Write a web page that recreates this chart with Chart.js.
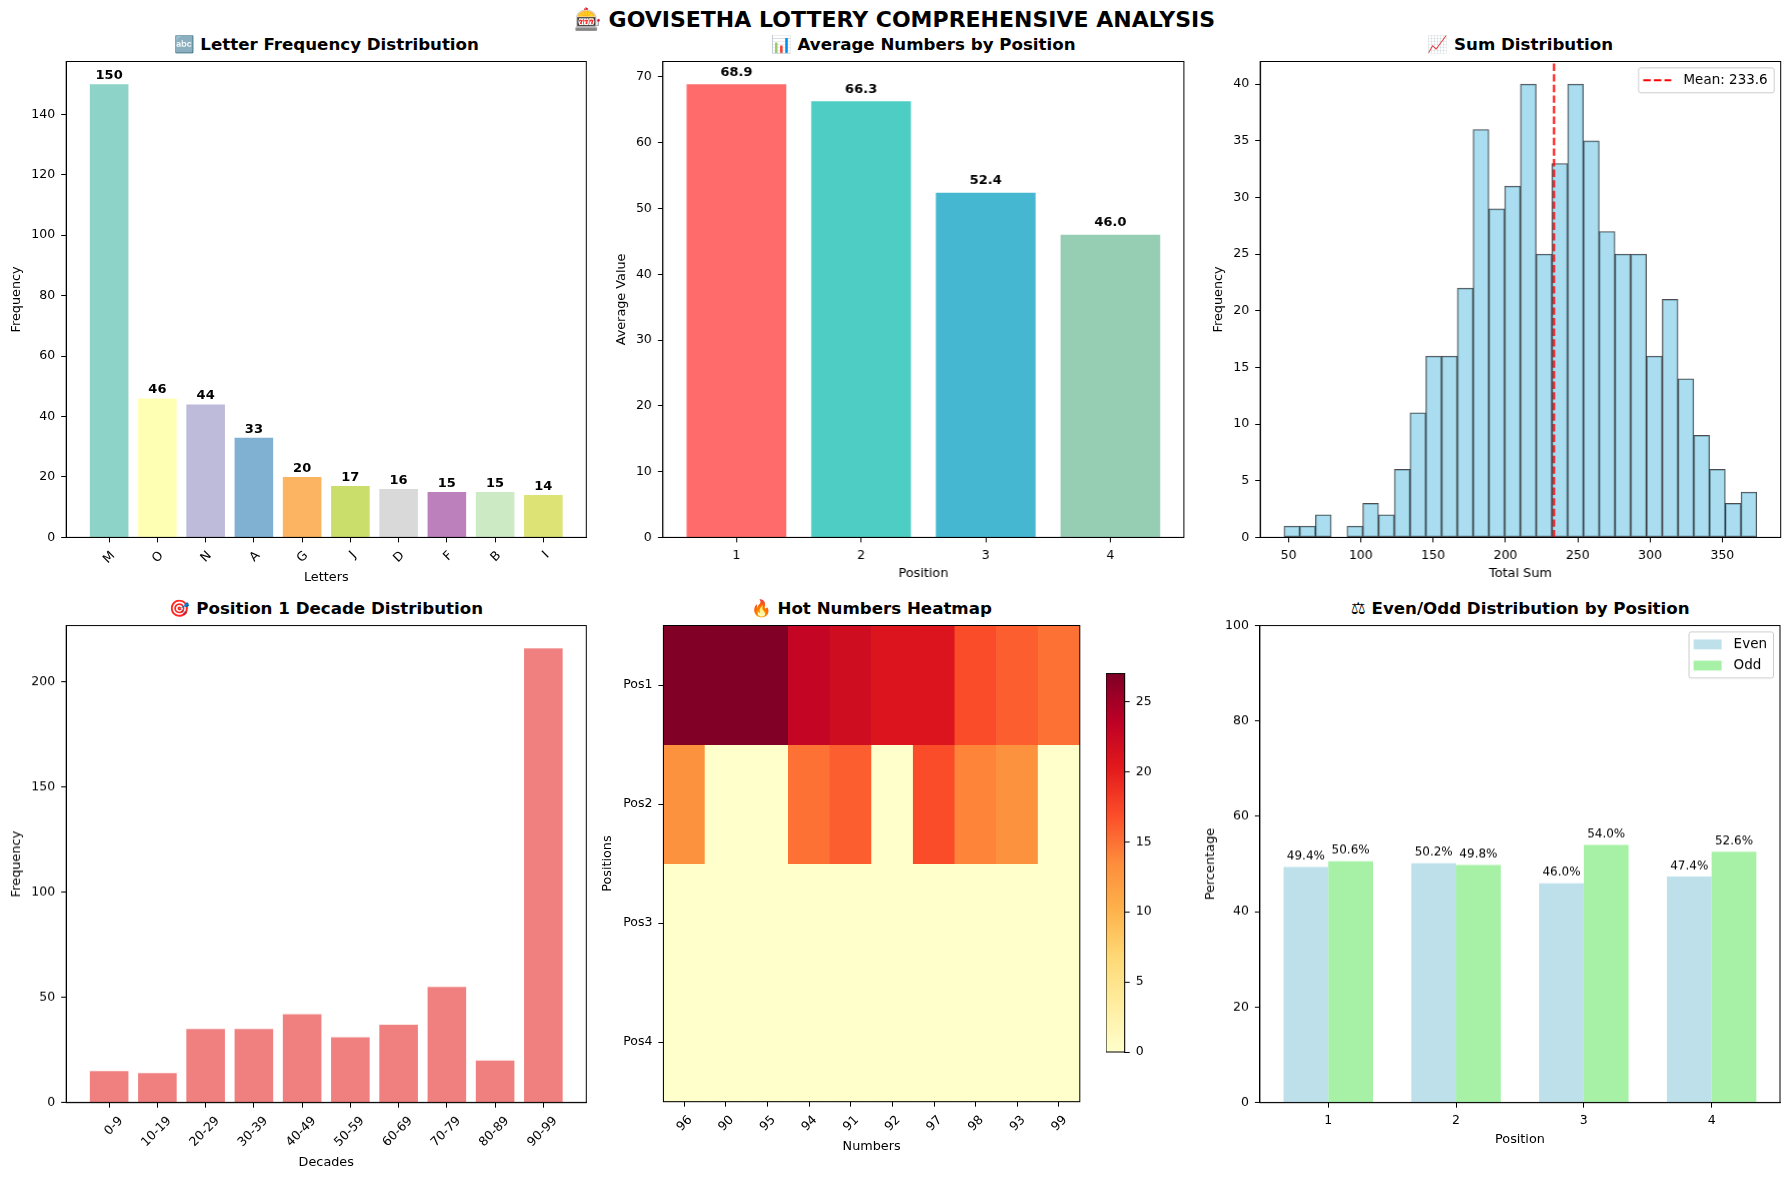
<!DOCTYPE html>
<html>
<head>
<meta charset="utf-8">
<script src="https://cdn.jsdelivr.net/npm/chart.js@4.4.1/dist/chart.umd.min.js"></script>
<style>
  body { margin: 0; background: #fff; width: 1789px; height: 1180px; position: relative; overflow: hidden; font-family: 'DejaVu Sans'; }
  .panel { position: absolute; }
  .ptitle { position: absolute; text-align: center; font: bold 16.67px/19px 'DejaVu Sans'; color: #000; white-space: nowrap; }
  #suptitle { position: absolute; left: 0; width: 1789px; top: 7px; text-align: center; font: bold 22px/25px 'DejaVu Sans'; color: #000; }
</style>
</head>
<body>
<div id="suptitle">🎰 GOVISETHA LOTTERY COMPREHENSIVE ANALYSIS</div>
<script>
// ---- data ----
const letters = ['M', 'O', 'N', 'A', 'G', 'J', 'D', 'F', 'B', 'I'];
const letterCounts = [150, 46, 44, 33, 20, 17, 16, 15, 15, 14];
const letterColors = ['#8dd3c7', '#ffffb3', '#bebada', '#80b1d3', '#fdb462', '#cadf6b', '#d9d9d9', '#bc80bd', '#ccebc5', '#dde374'];

const positions = [1, 2, 3, 4];
const positionAverages = [68.9, 66.3, 52.4, 46.0];
const positionColors = ['#FF6B6B', '#4ECDC4', '#45B7D1', '#96CEB4'];

const sumBinCenters = [52.3, 63.2, 74.1, 85.0, 95.9, 106.8, 117.7, 128.6, 139.5, 150.4,
  161.3, 172.2, 183.1, 194.0, 204.9, 215.8, 226.7, 237.6, 248.5, 259.4,
  270.3, 281.2, 292.1, 303.0, 313.9, 324.8, 335.7, 346.6, 357.5, 368.4];
const sumBinCounts = [1, 1, 2, 0, 1, 3, 2, 6, 11, 16, 16, 22, 36, 29, 31, 40, 25, 33, 40, 35,
  27, 25, 25, 16, 21, 14, 9, 6, 3, 4];
const sumMean = 233.6;

const decades = ['0-9', '10-19', '20-29', '30-39', '40-49', '50-59', '60-69', '70-79', '80-89', '90-99'];
const decadeCounts = [15, 14, 35, 35, 42, 31, 37, 55, 20, 216];

const hotNumbers = ['96', '90', '95', '94', '91', '92', '97', '98', '93', '99'];
const posLabels = ['Pos1', 'Pos2', 'Pos3', 'Pos4'];
const hotPos1 = [27, 27, 27, 23, 22, 21, 21, 17, 16, 15];
const hotPos2 = [13, 0, 0, 15, 16, 0, 17, 14, 13, 0];
const hotPos3 = [0, 0, 0, 0, 0, 0, 0, 0, 0, 0];
const hotPos4 = [0, 0, 0, 0, 0, 0, 0, 0, 0, 0];
const heatMax = 27;

const evenPct = [49.4, 50.2, 46.0, 47.4];
const oddPct = [50.6, 49.8, 54.0, 52.6];

// ---- helpers ----
Chart.defaults.font.family = "'DejaVu Sans'";
Chart.defaults.color = '#000';

const YLORRD = ['#ffffcc', '#ffeda0', '#fed976', '#feb24c', '#fd8d3c', '#fc4e2a', '#e31a1c', '#bd0026', '#800026'];
function hex(c) { return [1, 3, 5].map(i => parseInt(c.substr(i, 2), 16)); }
function heatColor(v) {
  const p = Math.max(0, Math.min(1, v / heatMax)) * 8;
  const i = Math.min(7, Math.floor(p)), f = p - i;
  const a = hex(YLORRD[i]), b = hex(YLORRD[i + 1]);
  return 'rgb(' + a.map((x, k) => Math.round(x + (b[k] - x) * f)).join(',') + ')';
}

function axis(title, o) {
  o = o || {};
  const ticks = Object.assign({ color: '#000', font: { size: 12.5 }, padding: 6 }, o.ticks || {});
  return Object.assign({
    grid: { drawOnChartArea: false, tickLength: 5, color: '#000', offset: false },
    border: { color: '#000' },
    title: { display: !!title, text: title, color: '#000', font: { size: 12.8 }, padding: { top: 2, bottom: 2 } }
  }, o, { ticks: ticks });
}

const framePlugin = {
  id: 'frame',
  afterDatasetsDraw(chart) {
    const a = chart.chartArea, ctx = chart.ctx;
    ctx.save();
    ctx.strokeStyle = '#000';
    ctx.lineWidth = 1;
    ctx.strokeRect(a.left, a.top, a.right - a.left, a.bottom - a.top);
    ctx.restore();
  }
};

function valueLabels(font, offset, fmt) {
  return {
    id: 'valueLabels',
    afterDraw(chart) {
      const ctx = chart.ctx;
      ctx.save();
      ctx.font = font;
      ctx.fillStyle = '#000';
      ctx.textAlign = 'center';
      ctx.textBaseline = 'alphabetic';
      chart.data.datasets.forEach((ds, di) => {
        chart.getDatasetMeta(di).data.forEach((bar, i) => {
          ctx.fillText(fmt(ds.data[i].y), bar.x, bar.y - offset);
        });
      });
      ctx.restore();
    }
  };
}

// legend drawn inside the plot area, top right
const insideLegend = {
  id: 'insideLegend',
  afterDraw(chart) {
    const items = chart.data.datasets.filter(d => d.legendKind);
    const ctx = chart.ctx, a = chart.chartArea;
    ctx.save();
    ctx.font = "13.5px 'DejaVu Sans'";
    const rowH = 21.1, padY = 1.9, sample = 28, gap = 12;
    const textW = Math.max(...items.map(d => ctx.measureText(d.label).width));
    const w = 4.6 + sample + gap + textW + 6.5;
    const h = rowH * items.length + padY * 2;
    const x = a.right - 6.5 - w, y = a.top + 6.4;
    ctx.fillStyle = 'rgba(255,255,255,0.8)';
    ctx.strokeStyle = '#cccccc';
    ctx.lineWidth = 1;
    ctx.beginPath();
    ctx.roundRect(x, y, w, h, 2);
    ctx.fill();
    ctx.stroke();
    items.forEach((d, i) => {
      const cy = y + padY + rowH * (i + 0.5);
      if (d.legendKind === 'line') {
        ctx.strokeStyle = d.borderColor;
        ctx.lineWidth = 2;
        ctx.setLineDash(d.borderDash || []);
        ctx.beginPath();
        ctx.moveTo(x + 4.6, cy);
        ctx.lineTo(x + 4.6 + sample, cy);
        ctx.stroke();
        ctx.setLineDash([]);
      } else {
        ctx.fillStyle = d.backgroundColor;
        ctx.fillRect(x + 4.6, cy - 4.9, sample, 9.8);
      }
      ctx.fillStyle = '#000';
      ctx.textBaseline = 'middle';
      ctx.fillText(d.label, x + 4.6 + sample + gap, cy);
    });
    ctx.restore();
  }
};

// frame = [left, top, right, bottom] of the plot box
function panel(frame, title, yw, xh, padR, config) {
  const PT = 10;
  const t = document.createElement('div');
  t.className = 'ptitle';
  t.style.left = frame[0] + 'px';
  t.style.width = (frame[2] - frame[0]) + 'px';
  t.style.top = (frame[1] - 23.1) + 'px';
  t.textContent = title;
  document.body.appendChild(t);

  const div = document.createElement('div');
  div.className = 'panel';
  div.style.left = (frame[0] - yw) + 'px';
  div.style.top = (frame[1] - PT) + 'px';
  div.style.width = (frame[2] - frame[0] + yw + padR) + 'px';
  div.style.height = (frame[3] - frame[1] + PT + xh) + 'px';
  const cv = document.createElement('canvas');
  div.appendChild(cv);
  document.body.appendChild(div);

  const o = config.options;
  o.responsive = true;
  o.maintainAspectRatio = false;
  o.animation = false;
  o.layout = { padding: { left: 0, right: padR, top: PT, bottom: 0 } };
  o.plugins = Object.assign({ legend: { display: false }, tooltip: { enabled: false } }, o.plugins || {});
  o.scales.x.afterFit = s => { s.height = xh; };
  o.scales.y.afterFit = s => { s.width = yw; };
  config.plugins = [framePlugin].concat(config.plugins || []);
  return new Chart(cv, config);
}

function setTicks(values) {
  return s => { s.ticks = values.map(v => ({ value: v })); };
}

// ---- 1. letter frequency ----
panel([66.2, 57.6, 586.3, 537], '🔤 Letter Frequency Distribution', 59.2, 50.1, 14, {
  type: 'bar',
  data: {
    datasets: [{
      data: letterCounts.map((v, i) => ({ x: i, y: v })),
      backgroundColor: letterColors,
      barPercentage: 0.8, categoryPercentage: 1, borderWidth: 0
    }]
  },
  options: {
    scales: {
      x: axis('Letters', {
        type: 'linear', offset: false, min: -0.89, max: 9.89,
        afterBuildTicks: setTicks(letters.map((_, i) => i)),
        ticks: { minRotation: 45, maxRotation: 45, labelOffset: 4, callback: v => letters[v] }
      }),
      y: axis('Frequency', { min: 0, max: 157.5, ticks: { stepSize: 20, includeBounds: false } })
    }
  },
  plugins: [valueLabels("bold 13px 'DejaVu Sans'", 5.1, v => String(v))]
});

// ---- 2. average by position ----
panel([663.1, 57.6, 1183.2, 537], '📊 Average Numbers by Position', 50.8, 46.4, 14, {
  type: 'bar',
  data: {
    datasets: [{
      data: positionAverages.map((v, i) => ({ x: positions[i], y: v })),
      backgroundColor: positionColors,
      barPercentage: 0.8, categoryPercentage: 1, borderWidth: 0
    }]
  },
  options: {
    scales: {
      x: axis('Position', {
        type: 'linear', offset: false, min: 0.41, max: 4.59,
        afterBuildTicks: setTicks(positions)
      }),
      y: axis('Average Value', { min: 0, max: 72.35, ticks: { stepSize: 10, includeBounds: false } })
    }
  },
  plugins: [valueLabels("bold 13px 'DejaVu Sans'", 8.4, v => v.toFixed(1))]
});

// ---- 3. sum histogram ----
panel([1260.4, 57.6, 1780, 537], '📈 Sum Distribution', 51.1, 46.4, 6, {
  type: 'bar',
  data: {
    datasets: [{
      type: 'bar',
      order: 2,
      data: sumBinCounts.map((v, i) => ({ x: sumBinCenters[i], y: v })),
      backgroundColor: 'rgba(135,206,235,0.7)',
      borderColor: 'rgba(0,0,0,0.7)',
      borderWidth: 1, borderSkipped: false,
      barPercentage: 1, categoryPercentage: 1
    }, {
      type: 'line',
      order: 1,
      label: 'Mean: ' + sumMean.toFixed(1),
      legendKind: 'line',
      data: [{ x: sumMean, y: 0 }, { x: sumMean, y: 42 }],
      borderColor: 'red', borderWidth: 2, borderDash: [7.4, 3.2],
      pointRadius: 0, fill: false
    }]
  },
  options: {
    scales: {
      x: axis('Total Sum', {
        type: 'linear', offset: false, min: 30.4, max: 390.4,
        ticks: { stepSize: 50, includeBounds: false }
      }),
      y: axis('Frequency', { min: 0, max: 42, ticks: { stepSize: 5, includeBounds: false } })
    }
  },
  plugins: [insideLegend]
});

// ---- 4. position 1 decades ----
panel([66.2, 622.4, 586.3, 1102.1], '🎯 Position 1 Decade Distribution', 59.2, 70.1, 14, {
  type: 'bar',
  data: {
    datasets: [{
      data: decadeCounts.map((v, i) => ({ x: i, y: v })),
      backgroundColor: '#F08080',
      barPercentage: 0.8, categoryPercentage: 1, borderWidth: 0
    }]
  },
  options: {
    scales: {
      x: axis('Decades', {
        type: 'linear', offset: false, min: -0.89, max: 9.89,
        afterBuildTicks: setTicks(decades.map((_, i) => i)),
        ticks: { minRotation: 45, maxRotation: 45, labelOffset: 12, callback: v => decades[v] }
      }),
      y: axis('Frequency', { min: 0, max: 226.8, ticks: { stepSize: 50, includeBounds: false } })
    }
  }
});

// ---- 5. hot numbers heatmap ----
const hotRows = [hotPos1, hotPos2, hotPos3, hotPos4];
panel([663.1, 622.4, 1079.5, 1102.1], '🔥 Hot Numbers Heatmap', 65.4, 54.3, 6, {
  type: 'bar',
  data: {
    labels: hotNumbers,
    datasets: hotRows.map((vals, r) => ({
      data: vals.map(() => [r, r + 1]),
      backgroundColor: vals.map(heatColor),
      grouped: false, barPercentage: 1, categoryPercentage: 1, borderWidth: 0
    }))
  },
  options: {
    scales: {
      x: axis('Numbers', {
        type: 'category', offset: true,
        ticks: { minRotation: 45, maxRotation: 45, labelOffset: 6 }
      }),
      y: axis('Positions', {
        type: 'linear', reverse: true, min: 0, max: 4,
        afterBuildTicks: setTicks([0.5, 1.5, 2.5, 3.5]),
        ticks: { callback: v => posLabels[Math.floor(v)] }
      })
    }
  }
});

// colorbar for the heatmap
(function () {
  const f = [1105.5, 670.2, 1124.2, 1054.7];
  const div = document.createElement('div');
  div.className = 'panel';
  div.style.left = f[0] + 'px';
  div.style.top = (f[1] - 10) + 'px';
  div.style.width = (f[2] - f[0] + 36) + 'px';
  div.style.height = (f[3] - f[1] + 20) + 'px';
  const cv = document.createElement('canvas');
  div.appendChild(cv);
  document.body.appendChild(div);
  const gradient = {
    id: 'gradient',
    beforeDatasetsDraw(chart) {
      const a = chart.chartArea, ctx = chart.ctx;
      const g = ctx.createLinearGradient(0, a.bottom, 0, a.top);
      YLORRD.forEach((c, i) => g.addColorStop(i / 8, c));
      ctx.save();
      ctx.fillStyle = g;
      ctx.fillRect(a.left, a.top, a.right - a.left, a.bottom - a.top);
      ctx.restore();
    }
  };
  new Chart(cv, {
    type: 'bar',
    data: { labels: [''], datasets: [{ data: [] }] },
    options: {
      responsive: true, maintainAspectRatio: false, animation: false,
      layout: { padding: { left: 0, right: 0, top: 10, bottom: 10 } },
      plugins: { legend: { display: false }, tooltip: { enabled: false } },
      scales: {
        x: { display: false },
        y: axis('', {
          position: 'right', min: 0, max: heatMax,
          ticks: { stepSize: 5, includeBounds: false },
          afterFit: s => { s.width = 36; }
        })
      }
    },
    plugins: [gradient, framePlugin]
  });
})();

// ---- 6. even / odd ----
panel([1260.2, 622.4, 1780.3, 1102.1], '⚖ Even/Odd Distribution by Position', 58.9, 46.8, 6, {
  type: 'bar',
  data: {
    datasets: [{
      label: 'Even', legendKind: 'box',
      data: evenPct.map((v, i) => ({ x: positions[i], y: v })),
      backgroundColor: 'rgba(173,216,230,0.8)',
      barPercentage: 1, categoryPercentage: 0.7, borderWidth: 0
    }, {
      label: 'Odd', legendKind: 'box',
      data: oddPct.map((v, i) => ({ x: positions[i], y: v })),
      backgroundColor: 'rgba(144,238,144,0.8)',
      barPercentage: 1, categoryPercentage: 0.7, borderWidth: 0
    }]
  },
  options: {
    scales: {
      x: axis('Position', {
        type: 'linear', offset: false, min: 0.465, max: 4.535,
        afterBuildTicks: setTicks(positions)
      }),
      y: axis('Percentage', { min: 0, max: 100, ticks: { stepSize: 20 } })
    }
  },
  plugins: [valueLabels("12px 'DejaVu Sans'", 7.3, v => v.toFixed(1) + '%'), insideLegend]
});
</script>
</body>
</html>
